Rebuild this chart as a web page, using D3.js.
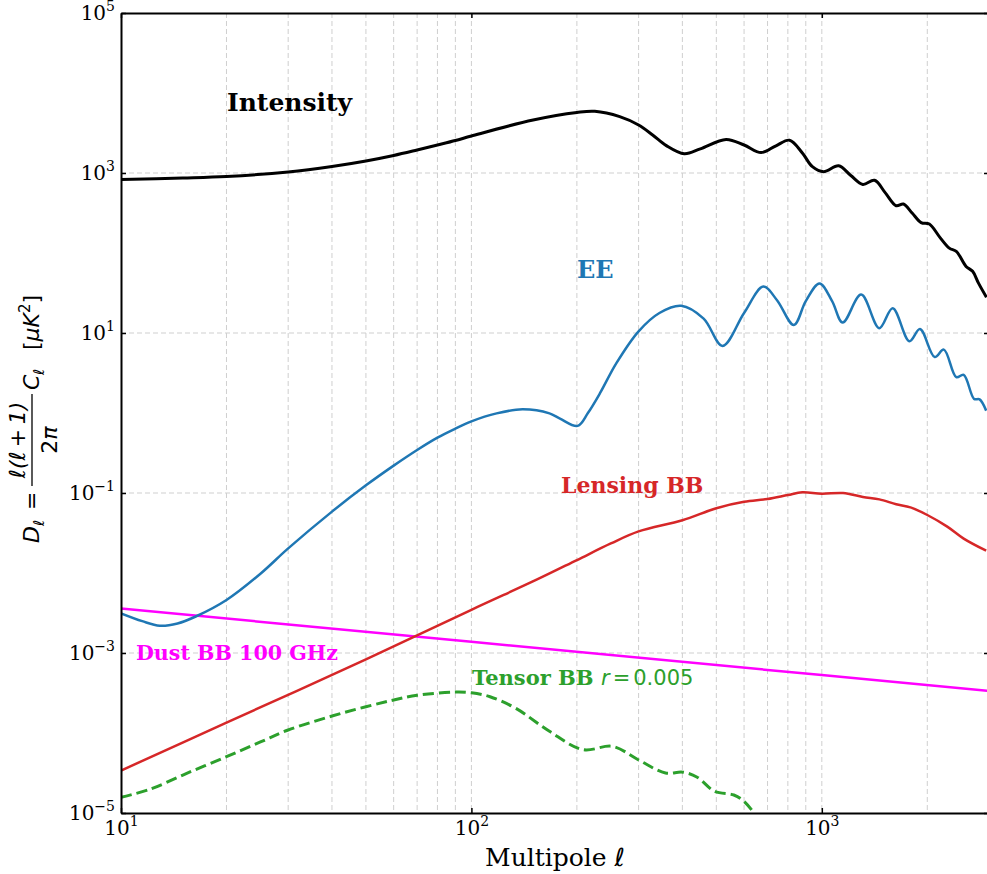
<!DOCTYPE html>
<meta charset="utf-8">
<head>
<title>CMB angular power spectra</title>
<script src="https://cdn.jsdelivr.net/npm/d3@7"></script>
<style>
body { margin: 0; background: #fff; }
text { font-family: "DejaVu Serif", serif; }
.math { font-family: "DejaVu Sans", sans-serif; }
</style>
</head>
<body>
<script>

// [multipole, D_ell in uK^2] for each spectrum
var intensity = [[10, 830], [15, 866], [20, 904], [30, 1029], [40, 1205], [50, 1413], [60, 1655],
  [70, 1939], [80, 2239], [90, 2548], [100, 2900], [150, 4597], [200, 5706], [225, 5900],
  [265, 5060], [300, 3980], [329, 2990], [360, 2200], [405, 1740], [450, 2000], [533, 2630],
  [600, 2240], [671, 1800], [740, 2190], [809, 2570], [880, 1780], [940, 1200], [1012, 1040],
  [1117, 1230], [1210, 930], [1309, 720], [1414, 810], [1520, 560], [1630, 390], [1710, 410],
  [1810, 316], [1920, 240], [2027, 230], [2170, 158], [2311, 115], [2420, 105], [2580, 68],
  [2694, 59], [2800, 42], [2950, 28]];

var ee = [[10, 3.13e-3], [11.5, 2.5e-3], [12.9, 2.19e-3], [14.5, 2.34e-3], [16.4, 2.88e-3],
  [20, 4.6e-3], [25, 9.8e-3], [30, 0.0203], [40, 0.0585], [50, 0.1247], [60, 0.22], [70, 0.345],
  [80, 0.492], [90, 0.637], [100, 0.787], [118, 0.99], [140, 1.11], [167, 0.99], [179, 0.85],
  [201, 0.69], [215, 1.0], [233, 1.78], [259, 4.17], [300, 10.5], [344, 17.8], [397, 21.9],
  [460, 15.1], [521, 6.9], [600, 17.8], [681, 38], [745, 25.7], [832, 12.6], [900, 25],
  [985, 41.7], [1070, 25], [1147, 13.5], [1295, 30.2], [1459, 11.5], [1593, 20.4], [1778, 7.9],
  [1906, 11.2], [2100, 5.0], [2230, 6.2], [2420, 2.8], [2540, 3.0], [2720, 1.5], [2820, 1.48],
  [2945, 1.07]];

var lensingBB = [[10, 3.39e-5], [20, 1.35e-4], [50, 8.3e-4], [100, 3.47e-3], [154, 8.3e-3],
  [200, 0.0145], [250, 0.0234], [300, 0.0331], [400, 0.0457], [500, 0.0646], [600, 0.0776],
  [700, 0.0841], [800, 0.0944], [880, 0.102], [1000, 0.0977], [1150, 0.1], [1310, 0.0891],
  [1460, 0.0832], [1630, 0.0724], [1790, 0.066], [2000, 0.0531], [2280, 0.038], [2540, 0.0269],
  [2945, 0.019]];

var dustBB = [[10, 3.6e-3], [100, 1.38e-3], [1000, 5.3e-4], [3000, 3.35e-4]];

var tensorBB = [[10, 1.57e-5], [12.1, 1.98e-5], [15.4, 3.13e-5], [20, 5.06e-5], [25, 7.72e-5],
  [30, 1.09e-4], [40, 1.63e-4], [50, 2.13e-4], [60, 2.585e-4], [70, 2.96e-4], [90, 3.25e-4],
  [100, 3.18e-4], [113, 2.84e-4], [134, 2.03e-4], [167, 1.05e-4], [208, 6.2e-5], [253, 6.8e-5],
  [300, 4.6e-5], [358, 3.16e-5], [401, 3.24e-5], [441, 2.8e-5], [495, 1.86e-5], [561, 1.68e-5],
  [594, 1.45e-5], [640, 1.0e-5], [700, 5e-6]];

var xMajor = [10, 100, 1000];
var yMajor = [1e-5, 1e-3, 1e-1, 1e1, 1e3, 1e5];

// svg
var w = 987, h = 874;
var pLeft = 121, pRight = 989, pTop = 13, pBottom = 813;

var svg = d3.select("body").append("svg").attr("width", w).attr("height", h);

var x = d3.scaleLog().domain([10, 3000]).range([pLeft, pRight]);
var y = d3.scaleLog().domain([1e-5, 1e5]).range([pBottom, pTop]);

svg.append("clipPath").attr("id", "plotclip")
    .append("rect").attr("x", pLeft).attr("y", pTop)
    .attr("width", pRight - pLeft).attr("height", pBottom - pTop);

// dashed grid: every log tick on x, labelled decades on y
var grid = svg.append("g").attr("stroke", "#cfcfcf").attr("stroke-width", 1)
    .attr("stroke-dasharray", "5,3");
grid.selectAll(".gx").data(x.ticks().filter(function(d) { return d > 10 && d < 3000; }))
    .enter().append("line")
    .attr("x1", function(d) { return x(d); }).attr("x2", function(d) { return x(d); })
    .attr("y1", pTop).attr("y2", pBottom);
grid.selectAll(".gy").data(yMajor.slice(1, -1))
    .enter().append("line")
    .attr("y1", function(d) { return y(d); }).attr("y2", function(d) { return y(d); })
    .attr("x1", pLeft).attr("x2", pRight);

// curves
var line = d3.line()
    .x(function(d) { return x(d[0]); })
    .y(function(d) { return y(d[1]); })
    .curve(d3.curveCatmullRom.alpha(0.5));
var straight = d3.line()
    .x(function(d) { return x(d[0]); })
    .y(function(d) { return y(d[1]); });

var curves = svg.append("g").attr("clip-path", "url(#plotclip)").attr("fill", "none");
curves.append("path").datum(dustBB).attr("d", straight)
    .attr("stroke", "#ff00ff").attr("stroke-width", 2.5);
curves.append("path").datum(tensorBB).attr("d", line)
    .attr("stroke", "#2ca02c").attr("stroke-width", 3).attr("stroke-dasharray", "11,5");
curves.append("path").datum(lensingBB).attr("d", line)
    .attr("stroke", "#d62728").attr("stroke-width", 2.5);
curves.append("path").datum(ee).attr("d", line)
    .attr("stroke", "#1f77b4").attr("stroke-width", 2.5);
curves.append("path").datum(intensity).attr("d", line)
    .attr("stroke", "#000").attr("stroke-width", 3);

// axes, ticks pointing inward
function powLabel(t) {
    var sel = d3.select(this);
    var e = Math.round(Math.log10(t));
    sel.text(null);
    sel.append("tspan").text("10");
    sel.append("tspan").attr("dy", -9).attr("font-size", 14)
        .text(e < 0 ? "\u2212" + (-e) : "" + e);
}

function styleAxis(g) {
    g.attr("font-family", null).attr("font-size", 20);
    g.select(".domain").attr("stroke", "#000").attr("stroke-width", 2);
    g.selectAll(".tick line").attr("stroke", "#000").attr("stroke-width", 1.5);
    g.selectAll(".tick text").attr("fill", "#000");
}

svg.append("g").attr("transform", "translate(0," + pBottom + ")")
    .call(d3.axisBottom(x).tickValues(xMajor).tickSize(-5).tickSizeOuter(0).tickPadding(8))
    .call(styleAxis)
    .selectAll(".tick text").each(powLabel);
svg.append("g").attr("transform", "translate(0," + pTop + ")")
    .call(d3.axisTop(x).tickValues(xMajor).tickSize(-5).tickSizeOuter(0).tickFormat(""))
    .call(styleAxis);
svg.append("g").attr("transform", "translate(" + pLeft + ",0)")
    .call(d3.axisLeft(y).tickValues(yMajor).tickSize(-5).tickSizeOuter(0).tickPadding(6))
    .call(styleAxis)
    .selectAll(".tick text").each(powLabel);
svg.append("g").attr("transform", "translate(" + pRight + ",0)")
    .call(d3.axisRight(y).tickValues(yMajor).tickSize(-5).tickSizeOuter(0).tickFormat(""))
    .call(styleAxis);

// x label
var xl = svg.append("text").attr("x", (pLeft + pRight) / 2).attr("y", 866)
    .attr("text-anchor", "middle").attr("font-size", 25);
xl.append("tspan").text("Multipole ");
xl.append("tspan").attr("class", "math").attr("font-style", "italic").text("\u2113");

// y label: D_l = l(l+1)/2pi C_l [uK^2], drawn in a rotated frame
var yl = svg.append("g").attr("transform", "rotate(-90)").attr("class", "math")
    .attr("font-size", 22).attr("fill", "#000");
function ylText(px, py, s, opts) {
    var t = yl.append("text").attr("class", "math").attr("x", -py).attr("y", px).text(s);
    if (opts) for (var k in opts) t.attr(k, opts[k]);
    return t;
}
ylText(39, 543, "D", {"font-style": "italic"});
ylText(44, 526, "\u2113", {"font-style": "italic", "font-size": 15});
ylText(39, 510, "=");
ylText(25, 440, "\u2113(\u2113\u2009+\u20091)", {"font-style": "italic", "text-anchor": "middle"});
yl.append("line").attr("x1", -486).attr("x2", -394).attr("y1", 32).attr("y2", 32)
    .attr("stroke", "#000").attr("stroke-width", 1.3);
var den = ylText(57, 440, "2", {"text-anchor": "middle"});
den.append("tspan").attr("font-style", "italic").text("\u03c0");
ylText(39, 390, "C", {"font-style": "italic"});
ylText(44, 375, "\u2113", {"font-style": "italic", "font-size": 15});
var unit = ylText(39, 350, "[");
unit.append("tspan").attr("font-style", "italic").text("\u03bcK");
unit.append("tspan").attr("dy", -9).attr("font-size", 15).text("2");
unit.append("tspan").attr("dy", 9).text("]");

// curve labels
function curveLabel(px, py, s, color, size) {
    return svg.append("text").attr("x", px).attr("y", py).attr("fill", color)
        .attr("font-weight", "bold").attr("font-size", size).text(s);
}
curveLabel(227, 111, "Intensity", "#000", 25);
curveLabel(577, 278, "EE", "#1f77b4", 24);
curveLabel(561, 493, "Lensing BB", "#d62728", 22);
curveLabel(136, 660, "Dust BB 100 GHz", "#ff00ff", 20.6);
curveLabel(472, 685, "Tensor BB", "#2ca02c", 21);
var r = svg.append("text").attr("class", "math").attr("x", 601).attr("y", 685)
    .attr("fill", "#2ca02c").attr("font-size", 21);
r.append("tspan").attr("font-style", "italic").text("r");
r.append("tspan").attr("dx", 3).text("=");
r.append("tspan").attr("dx", 3).text("0.005");

</script>
</body>
</html>
